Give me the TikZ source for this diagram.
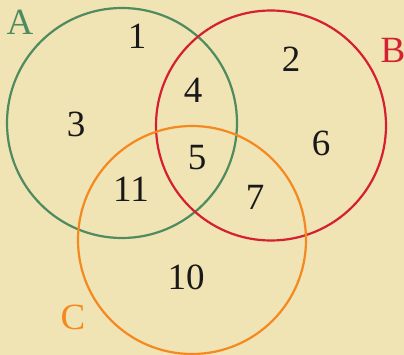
\documentclass[tikz,border=0pt]{standalone}
\usepackage{fontspec}
\setmainfont{Liberation Serif}
\definecolor{bg}{HTML}{F0E3B4}
\definecolor{cA}{HTML}{4E8B5F}
\definecolor{cB}{HTML}{D42030}
\definecolor{cC}{HTML}{F5891F}
\begin{document}
\begin{tikzpicture}[x=1pt,y=-1pt,
  ring/.style={line width=2.2pt},
  num/.style={anchor=base,inner sep=0pt,text=black!90,font=\fontsize{37}{40}\selectfont},
  lab/.style={anchor=base,inner sep=0pt,font=\fontsize{37}{40}\selectfont}]
\fill[bg] (0,0) rectangle (404,355);
\useasboundingbox (0,0) rectangle (404,355);
\draw[ring,cA] (122,123) circle[radius=115];
\draw[ring,cB] (271,125.5) circle[radius=115];
\draw[ring,cC] (192,240) circle[radius=114];
\node[lab,text=cA] (la) at (20,35) {A};
\node[lab,text=cB] (lb) at (393,63) {B};
\node[lab,text=cC] (lc) at (73,329) {C};
\node[num] (n1) at (137,49) {1};
\node[num] (n2) at (291,72) {2};
\node[num] (n3) at (76,137) {3};
\node[num] (n4) at (193,103) {4};
\node[num] (n5) at (197,170) {5};
\node[num] (n6) at (321,156) {6};
\node[num] (n7) at (255,210) {7};
\node[num] (n10) at (186,289) {10};
\node[num] (n11) at (131,202) {11};
\end{tikzpicture}
\end{document}
